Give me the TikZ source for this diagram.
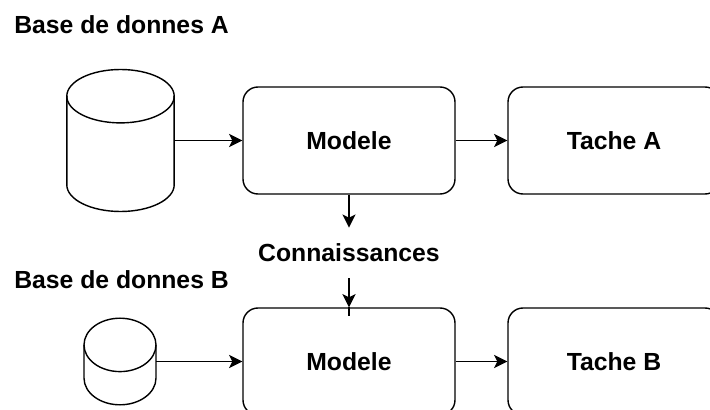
\documentclass[tikz,border=0pt]{standalone}
\usepackage{fontspec}
\setmainfont{Liberation Sans}
\usetikzlibrary{arrows.meta}

\begin{document}
\begin{tikzpicture}[
  every node/.style={font=\fontsize{17.6pt}{21pt}\selectfont\bfseries},
  bloc/.style={draw, line width=1pt, rounded corners=0.375cm, minimum width=5.3cm, minimum height=2.675cm},
  base/.style={inner sep=0, outer sep=0},
  fleche/.style={line width=1pt, -{Stealth[length=0.33cm,width=0.33cm,inset=0.08cm]}},
  cyl/.style={line width=1pt}
]
\useasboundingbox (0,0) rectangle (17.75,-10.25);
\clip (0,0) rectangle (17.75,-10.25);

\node[anchor=west, inner sep=0] (TitreA) at (0.35,-0.625) {Base de donnes A};
\node[anchor=west, inner sep=0] (TitreB) at (0.35,-7.0) {Base de donnes B};

\node[base, minimum width=2.685cm, minimum height=3.55cm] (BDA) at (3.0125,-3.5125) {};
\node[base, minimum width=1.8cm, minimum height=2.165cm] (BDB) at (3.0,-9.0375) {};

\node[bloc] (ModeleA) at (8.725,-3.5125) {Modele};
\node[bloc] (TacheA) at (15.35,-3.5125) {Tache A};
\node[bloc] (ModeleB) at (8.725,-9.0375) {Modele};
\node[bloc] (TacheB) at (15.35,-9.0375) {Tache B};
\node[inner xsep=0.1cm, inner ysep=0.4cm] (Connaissances) at (8.725,-6.325) {Connaissances};

% cylindres
\draw[cyl] ([yshift=-0.6675cm]BDA.north) ellipse [x radius=1.3425cm, y radius=0.6675cm];
\draw[cyl] ([yshift=-0.6675cm]BDA.north west) -- ([yshift=0.6675cm]BDA.south west)
  arc [start angle=180, end angle=360, x radius=1.3425cm, y radius=0.6675cm] -- ([yshift=-0.6675cm]BDA.north east);
\draw[cyl] ([yshift=-0.6675cm]BDB.north) ellipse [x radius=0.9cm, y radius=0.6675cm];
\draw[cyl] ([yshift=-0.6675cm]BDB.north west) -- ([yshift=0.6675cm]BDB.south west)
  arc [start angle=180, end angle=360, x radius=0.9cm, y radius=0.6675cm] -- ([yshift=-0.6675cm]BDB.north east);

\draw[fleche] (BDA.east) -- (ModeleA.west);
\draw[fleche] (ModeleA.east) -- (TacheA.west);
\draw[fleche] (BDB.east) -- (ModeleB.west);
\draw[fleche] (ModeleB.east) -- (TacheB.west);
\draw[fleche] (ModeleA.south) -- (Connaissances.north);
\draw[fleche] (Connaissances.south) -- (ModeleB.north);
\draw[cyl] (ModeleB.north) -- ++(0,-0.225);
\end{tikzpicture}
\end{document}
